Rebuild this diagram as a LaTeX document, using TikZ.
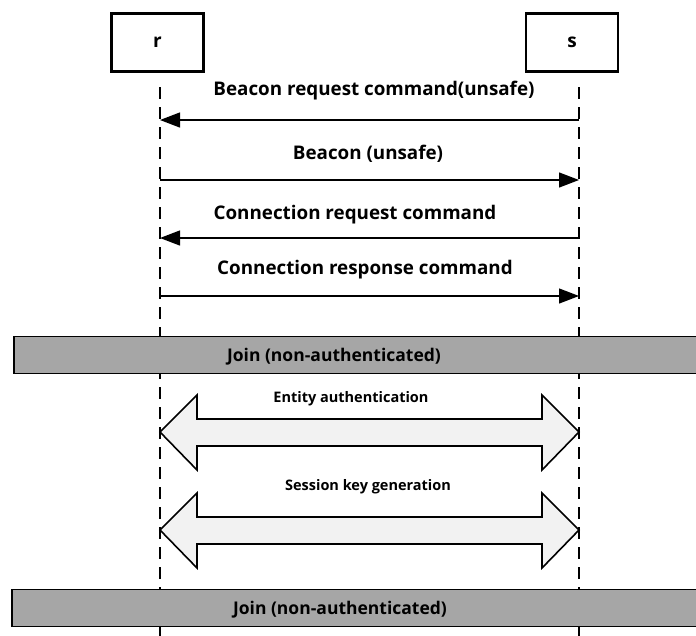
\documentclass[tikz,border=0pt]{standalone}
\usepackage{fontspec}
\setmainfont{Open Sans}
\usepackage{tikz}
\usetikzlibrary{positioning,calc,arrows.meta}
\definecolor{barColor}{RGB}{166,166,166}
\definecolor{dblColor}{RGB}{242,242,242}
\tikzset{
    entity/.style={
        draw,
        line width=2.6pt,
        minimum width=92pt,
        minimum height=58pt,
        font=\bfseries\fontsize{19}{22}\selectfont
    },
    lifeline/.style={
        line width=1.3pt,
        dash pattern=on 12pt off 8pt
    },
    msg/.style={
        -{Triangle[length=20pt,width=15pt]},
        line width=1.3pt
    },
    msglabel/.style={
        font=\bfseries\fontsize{18.8}{22}\selectfont
    },
    joinbar/.style={
        draw,
        line width=1.8pt,
        fill=barColor,
        minimum width=690pt,
        minimum height=37pt
    },
    joinlabel/.style={
        font=\bfseries\fontsize{17.5}{20}\selectfont
    },
    smalllabel/.style={
        font=\bfseries\fontsize{14.5}{17}\selectfont
    }
}

\begin{document}
\begin{tikzpicture}[x=1pt, y=-1pt]
    \clip (0,0) rectangle (696,635);
    \node[entity] (r) at (157.5,42.5) {r};
    \node[entity] (s) at (572,42.5) {s};

    % lifelines
    \coordinate (rEnd) at (160,640);
    \coordinate (sEnd) at (579,640);
    \coordinate (rTop) at (160,87);
    \coordinate (sTop) at (579,87);
    \draw[lifeline] (rTop) -- (rEnd);
    \draw[lifeline] (sTop) -- (sEnd);

    % messages
    \foreach \y/\n in {120/1, 180/2, 238/3, 296/4} {
        \coordinate (r\n) at (160,\y);
        \coordinate (s\n) at (579,\y);
    }
    \draw[msg] (s1) -- (r1);
    \draw[msg] (r2) -- (s2);
    \draw[msg] (s3) -- (r3);
    \draw[msg] (r4) -- (s4);
    \node[msglabel] (m1) at (374,91) {Beacon request command(unsafe)};
    \node[msglabel] (m2) at (368,154) {Beacon (unsafe)};
    \node[msglabel] (m3) at (355,215) {Connection request command};
    \node[msglabel] (m4) at (365,270) {Connection response command};

    % join bars
    \node[joinbar] (join1) at (359,355) {};
    \node[joinlabel] (j1) at (334,357) {Join (non-authenticated)};
    \node[joinbar] (join2) at (357,608) {};
    \node[joinlabel] (j2) at (340,610) {Join (non-authenticated)};

    % double arrows
    \foreach \y/\n in {432/5, 530/6} {
        \coordinate (r\n) at (160,\y);
        \coordinate (s\n) at (579,\y);
        \draw[line width=1.6pt, fill=dblColor]
            (r\n) -- ($(r\n)+(37,-37)$) -- ($(r\n)+(37,-13)$) -- ($(s\n)+(-37,-13)$)
            -- ($(s\n)+(-37,-37)$) -- (s\n) -- ($(s\n)+(-37,38)$) -- ($(s\n)+(-37,14)$)
            -- ($(r\n)+(37,14)$) -- ($(r\n)+(37,38)$) -- cycle;
    }
    \node[smalllabel] (d1) at (351,399) {Entity authentication};
    \node[smalllabel] (d2) at (368,487) {Session key generation};
\end{tikzpicture}
\end{document}
